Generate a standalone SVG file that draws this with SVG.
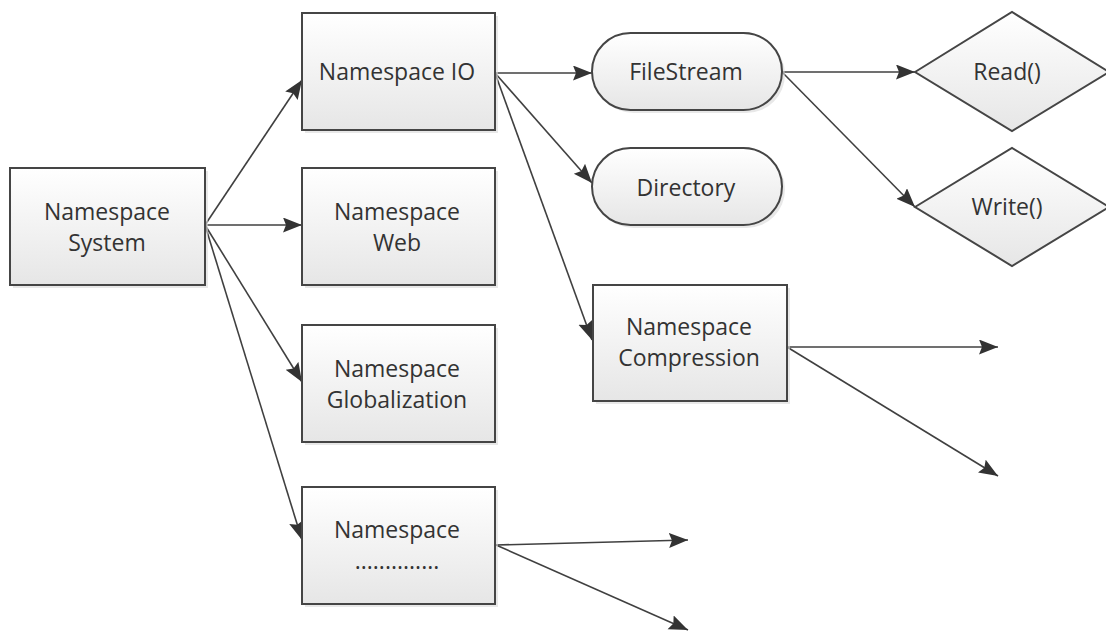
<svg xmlns="http://www.w3.org/2000/svg" width="1106" height="631" viewBox="0 0 1106 631">
<style>
.box{fill:url(#g);stroke:#454545;stroke-width:2}
.sh{fill:#d8d8d8;opacity:0.6}
.t{font-family:"Open Sans","Noto Sans",sans-serif;font-size:23px;fill:#333;text-anchor:middle}
.c{fill:none;stroke:#404040;stroke-width:1.6}
</style>
<defs>
<linearGradient id="g" x1="0" y1="0" x2="0" y2="1">
<stop offset="0" stop-color="#ffffff"/>
<stop offset="1" stop-color="#e6e6e6"/>
</linearGradient>
<marker id="a" markerUnits="userSpaceOnUse" markerWidth="20" markerHeight="16" refX="19" refY="7.5" orient="auto">
<path d="M0,0 L19,7.5 L0,15 L3,7.5 z" fill="#333"/>
</marker>
</defs>
<g id="connectors">
<line class="c" x1="205" y1="225" x2="302" y2="80" marker-end="url(#a)"/>
<line class="c" x1="205" y1="225" x2="302" y2="225" marker-end="url(#a)"/>
<line class="c" x1="205" y1="225" x2="302" y2="382" marker-end="url(#a)"/>
<line class="c" x1="205" y1="225" x2="302" y2="540" marker-end="url(#a)"/>
<line class="c" x1="495" y1="73" x2="592" y2="73" marker-end="url(#a)"/>
<line class="c" x1="495" y1="73" x2="592" y2="183" marker-end="url(#a)"/>
<line class="c" x1="495" y1="73" x2="592" y2="340" marker-end="url(#a)"/>
<line class="c" x1="782" y1="72" x2="915" y2="72" marker-end="url(#a)"/>
<line class="c" x1="782" y1="72" x2="915" y2="207" marker-end="url(#a)"/>
<line class="c" x1="787" y1="347" x2="998" y2="347" marker-end="url(#a)"/>
<line class="c" x1="787" y1="347" x2="998" y2="476" marker-end="url(#a)"/>
<line class="c" x1="496" y1="545" x2="688" y2="540" marker-end="url(#a)"/>
<line class="c" x1="496" y1="545" x2="688" y2="630" marker-end="url(#a)"/>
</g>
<g id="ns-system">
<rect class="sh" x="13" y="171" width="195" height="117"/>
<rect class="box" x="10" y="168" width="195" height="117"/>
<text class="t" x="107" y="220">Namespace</text>
<text class="t" x="107" y="251">System</text>
</g>
<g id="ns-io">
<rect class="sh" x="305" y="16" width="193" height="117"/>
<rect class="box" x="302" y="13" width="193" height="117"/>
<text class="t" x="397" y="80">Namespace IO</text>
</g>
<g id="ns-web">
<rect class="sh" x="305" y="171" width="193" height="117"/>
<rect class="box" x="302" y="168" width="193" height="117"/>
<text class="t" x="397" y="220">Namespace</text>
<text class="t" x="397" y="251">Web</text>
</g>
<g id="ns-globalization">
<rect class="sh" x="305" y="328" width="193" height="117"/>
<rect class="box" x="302" y="325" width="193" height="117"/>
<text class="t" x="397" y="377">Namespace</text>
<text class="t" x="397" y="408">Globalization</text>
</g>
<g id="ns-more">
<rect class="sh" x="305" y="490" width="193" height="117"/>
<rect class="box" x="302" y="487" width="193" height="117"/>
<text class="t" x="397" y="538">Namespace</text>
<text class="t" x="397" y="569">..............</text>
</g>
<g id="filestream">
<rect class="sh" x="595" y="36" width="190" height="77" rx="38.5"/>
<rect class="box" x="592" y="33" width="190" height="77" rx="38.5"/>
<text class="t" x="686" y="80">FileStream</text>
</g>
<g id="directory">
<rect class="sh" x="595" y="151" width="190" height="77" rx="38.5"/>
<rect class="box" x="592" y="148" width="190" height="77" rx="38.5"/>
<text class="t" x="686" y="196">Directory</text>
</g>
<g id="ns-compression">
<rect class="sh" x="596" y="288" width="194" height="116"/>
<rect class="box" x="593" y="285" width="194" height="116"/>
<text class="t" x="689" y="335">Namespace</text>
<text class="t" x="689" y="366">Compression</text>
</g>
<g id="read">
<polygon class="box" points="915,72 1012,12 1109,72 1012,131"/>
<text class="t" x="1007" y="80">Read()</text>
</g>
<g id="write">
<polygon class="box" points="915,207 1012,148 1109,207 1012,266"/>
<text class="t" x="1007" y="215">Write()</text>
</g>
</svg>
